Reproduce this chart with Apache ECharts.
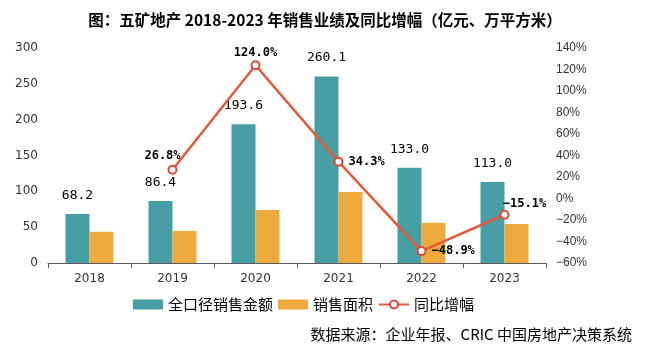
<!DOCTYPE html>
<html><head><meta charset="utf-8">
<script src="https://cdn.jsdelivr.net/npm/echarts@6/dist/echarts.min.js"></script>
<style>html,body{margin:0;padding:0;background:#fff}#c{width:652px;height:357px}</style>
</head><body><div id="c"></div>
<script>
const categories = ['2018','2019','2020','2021','2022','2023'];
const salesAmount = [68.2, 86.4, 193.6, 260.1, 133.0, 113.0];
const salesArea = [43.5, 44.8, 74, 99, 56.2, 54.5];
const yoyGrowth = [null, 26.8, 124.0, 34.3, -48.9, -15.1];
const leftTicks = [0, 300, 50];
const rightTicks = [-60, 140, 20];

const CJK = '"Noto Sans CJK SC", "Noto Sans", sans-serif';
const lineLabelPos = [null, {position:'top', offset:[-10,2]}, {position:'top', offset:[0,4]}, {position:'right'}, {position:'right'}, {position:'top', offset:[20,5]}];

const chart = echarts.init(document.getElementById('c'));
chart.setOption({
  animation: false,
  title: {
    text: '图：五矿地产 2018-2023 年销售业绩及同比增幅（亿元、万平方米）',
    left: 320, top: 7, textAlign: 'center',
    textStyle: {fontFamily: CJK, fontSize: 15.5, fontWeight: 'bold', color: '#000'}
  },
  graphic: [{
    type: 'text', right: 20, top: 327,
    style: {text: '数据来源：企业年报、CRIC 中国房地产决策系统', font: '15px ' + CJK, fill: '#000'}
  }],
  legend: {
    left: 128, top: 292, itemGap: 5, itemWidth: 30, itemHeight: 10,
    textStyle: {fontFamily: CJK, fontSize: 15, color: '#000'},
    data: [{name:'全口径销售金额', icon:'rect'}, {name:'销售面积', icon:'rect'}, {name:'同比增幅'}]
  },
  grid: {left: 48, right: 106, top: 48, bottom: 94},
  xAxis: {
    type: 'category', data: categories,
    axisLine: {lineStyle: {color: '#595959'}},
    axisTick: {show: true, length: 5, lineStyle: {color: '#595959'}},
    axisLabel: {fontSize: 12, color: '#333', margin: 10, fontFamily: 'DejaVu Sans'}
  },
  yAxis: [{
    type: 'value', min: leftTicks[0], max: leftTicks[1], interval: leftTicks[2],
    splitLine: {show: false}, axisLine: {show: false}, axisTick: {show: false},
    axisLabel: {fontSize: 12, color: '#333', margin: 10, fontFamily: 'DejaVu Sans'}
  }, {
    type: 'value', min: rightTicks[0], max: rightTicks[1], interval: rightTicks[2],
    splitLine: {show: false}, axisLine: {show: false}, axisTick: {show: false},
    axisLabel: {fontSize: 12, color: '#333', margin: 10, formatter: v => (v < 0 ? '−' + (-v) : v) + '%', fontFamily: 'Liberation Sans'}
  }],
  series: [{
    name: '全口径销售金额', type: 'bar', data: salesAmount, barWidth: 24, barGap: '0%',
    itemStyle: {color: '#479FA5'},
    label: {show: true, position: 'top', distance: 12, fontSize: 13, color: '#000', fontFamily: 'DejaVu Sans Mono',
      formatter: p => p.value.toFixed(1)}
  }, {
    name: '销售面积', type: 'bar', data: salesArea, barWidth: 24,
    itemStyle: {color: '#EEAA3C'}
  }, {
    name: '同比增幅', type: 'line', yAxisIndex: 1,
    data: yoyGrowth.map((v, i) => v === null ? null : {value: v, label: Object.assign({}, lineLabelPos[i])}),
    symbol: 'circle', symbolSize: 8,
    itemStyle: {color: '#fff', borderColor: '#D9493A', borderWidth: 2},
    lineStyle: {color: '#E35A38', width: 2.5},
    label: {show: true, fontSize: 12, fontWeight: 'bold', color: '#000', fontFamily: 'DejaVu Sans Mono',
      formatter: p => (p.value < 0 ? '−' + (-p.value).toFixed(1) : p.value.toFixed(1)) + '%'}
  }]
});
</script></body></html>
